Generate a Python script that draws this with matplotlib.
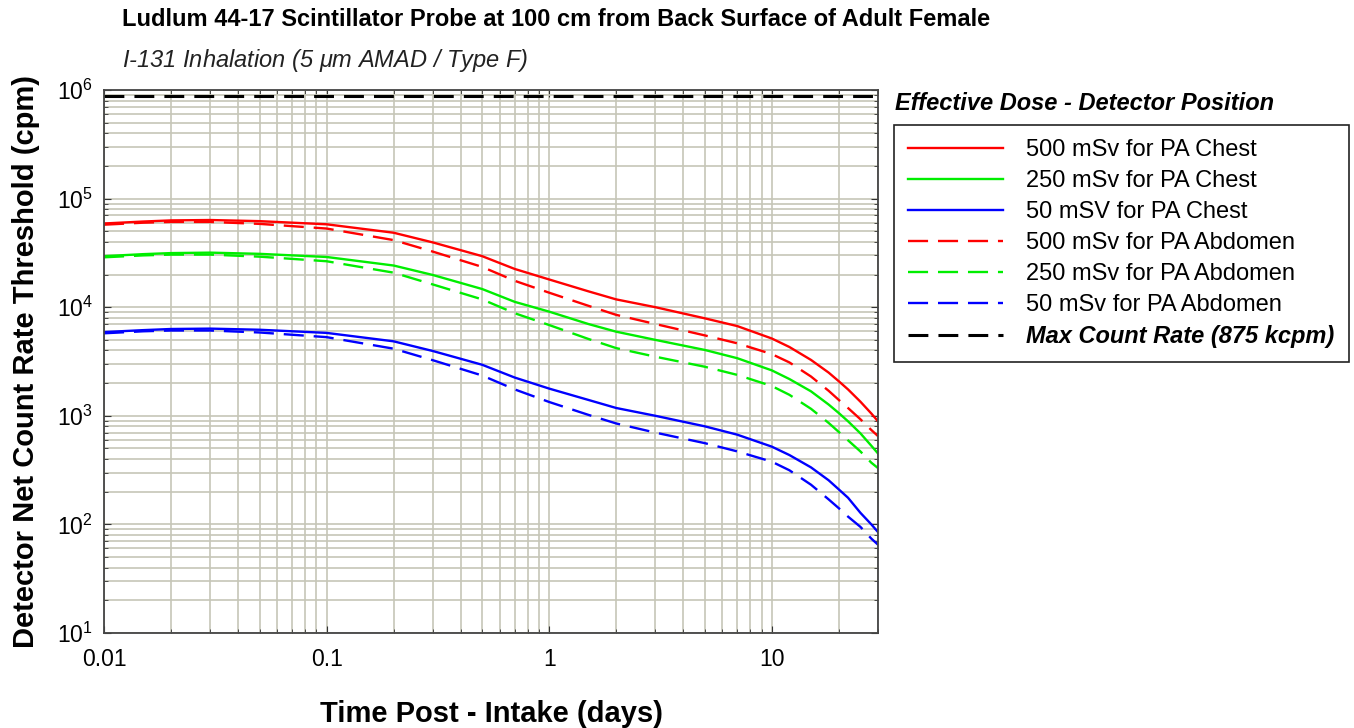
import numpy as np
import matplotlib
matplotlib.use('Agg')
import matplotlib.pyplot as plt
from matplotlib.ticker import LogLocator, FixedLocator, FixedFormatter, NullFormatter

plt.rcParams['font.family'] = ['Liberation Sans', 'DejaVu Sans']
plt.rcParams['mathtext.fontset'] = 'custom'
plt.rcParams['mathtext.rm'] = 'Liberation Sans'
plt.rcParams['mathtext.it'] = 'Liberation Sans:italic'

days = [0.01, 0.015, 0.02, 0.03, 0.05, 0.1, 0.2, 0.3, 0.5, 0.7, 1, 1.5, 2, 3,
        5, 7, 10, 12, 15, 18, 20, 22, 25, 28, 30]

chest_500 = [59000, 61500, 63000, 63500, 62000, 58000, 48500, 39500, 29500, 22500,
             18000, 14000, 11800, 10000, 7900, 6700, 5150, 4300, 3270, 2500, 2080,
             1750, 1350, 1050, 890]
chest_250 = [29500, 30800, 31500, 31800, 31000, 29000, 24200, 19800, 14700, 11200,
             9100, 7000, 5950, 5000, 4040, 3390, 2620, 2180, 1680, 1270, 1060,
             890, 690, 530, 450]
chest_50 = [5900, 6150, 6300, 6350, 6200, 5800, 4850, 3950, 2950, 2250,
            1780, 1400, 1180, 1000, 800, 670, 520, 435, 335, 255, 210,
            176, 128, 100, 85]
abd_500 = [57500, 60000, 61000, 61000, 58500, 53000, 41500, 32500, 23500, 17500,
           13600, 10300, 8500, 7000, 5500, 4650, 3700, 3100, 2300, 1700, 1400,
           1180, 930, 740, 650]
abd_250 = [28800, 30000, 30500, 30500, 29200, 26500, 20800, 16200, 11800, 8800,
           6850, 5100, 4200, 3500, 2830, 2380, 1880, 1560, 1160, 860, 710,
           595, 470, 370, 330]
abd_50 = [5750, 6000, 6100, 6100, 5850, 5300, 4150, 3250, 2350, 1750,
          1340, 1020, 850, 700, 560, 470, 378, 315, 232, 170, 141,
          118, 95, 74, 65]
max_rate = 875000

labels = ['500 mSv for PA Chest', '250 mSv for PA Chest', '50 mSV for PA Chest',
          '500 mSv for PA Abdomen', '250 mSv for PA Abdomen', '50 mSv for PA Abdomen']
series = [chest_500, chest_250, chest_50, abd_500, abd_250, abd_50]
colors = ['#ff0000', '#00ee00', '#0000ff'] * 2

fig = plt.figure(figsize=(13.54, 7.28), dpi=100)
ax = fig.add_axes([104 / 1354, 95 / 728, 774 / 1354, 543 / 728])

for i, (vals, lab, col) in enumerate(zip(series, labels, colors)):
    if i < 3:
        ax.plot(days, vals, color=col, lw=1.7, label=lab)
    else:
        ax.plot(days, vals, color=col, lw=1.7, dashes=(8.5, 4.2), label=lab)

ax.plot([0.01, 30], [max_rate, max_rate], color='black', lw=2.2, dashes=(6.5, 3.3),
        label='Max Count Rate (875 kcpm)')

ax.set_xscale('log')
ax.set_yscale('log')
ax.set_xlim(0.01, 30)
ax.set_ylim(10, 1e6)

grid_col = '#c6c6b8'
ax.grid(True, which='both', color=grid_col, lw=1.2)
ax.set_axisbelow(True)

ax.xaxis.set_major_locator(FixedLocator([0.01, 0.1, 1, 10]))
ax.xaxis.set_major_formatter(FixedFormatter(['0.01', '0.1', '1', '10']))
ax.xaxis.set_minor_locator(LogLocator(base=10, subs=np.arange(2, 10), numticks=20))
ax.xaxis.set_minor_formatter(NullFormatter())
ax.yaxis.set_major_locator(LogLocator(base=10, numticks=10))
ax.yaxis.set_minor_locator(LogLocator(base=10, subs=np.arange(2, 10), numticks=20))
ax.yaxis.set_minor_formatter(NullFormatter())

ax.tick_params(which='both', direction='in', top=True, right=True, labelsize=16.5,
               color='#333333')
ax.tick_params(which='major', length=5)
ax.tick_params(which='minor', length=3)
ax.tick_params(axis='x', which='major', pad=11)
ax.tick_params(axis='y', which='major', pad=8)
for s in ax.spines.values():
    s.set_color('#444444')
    s.set_linewidth(1.3)

ax.set_xlabel('Time Post - Intake (days)', fontsize=21, fontweight='bold', labelpad=21)
ax.set_ylabel('Detector Net Count Rate Threshold (cpm)', fontsize=21, fontweight='bold',
              labelpad=12)

fig.text(122 / 1354, 1 - 20 / 728, 'Ludlum 44-17 Scintillator Probe at 100 cm from Back Surface of Adult Female',
         fontsize=17, fontweight='bold', va='center', ha='left')
fig.text(122 / 1354, 1 - 61 / 728, r'I-131 Inhalation (5 $\mu$m AMAD / Type F)',
         fontsize=17, style='italic', va='center', ha='left', color='#222222')

fig.text(895 / 1354, 1 - 104 / 728, 'Effective Dose - Detector Position',
         fontsize=17, fontweight='bold', style='italic', va='center', ha='left')

leg = ax.legend(loc='upper left', bbox_to_anchor=(1.0207, 0.9355), borderaxespad=0,
                fontsize=17, handlelength=4.0, handletextpad=1.0, labelspacing=0.38,
                borderpad=0.6, fancybox=False, framealpha=1, edgecolor='#222222')
leg.get_frame().set_linewidth(1.2)
leg.get_texts()[-1].set_fontweight('bold')
leg.get_texts()[-1].set_fontstyle('italic')

fig.savefig('out.png', dpi=100)
